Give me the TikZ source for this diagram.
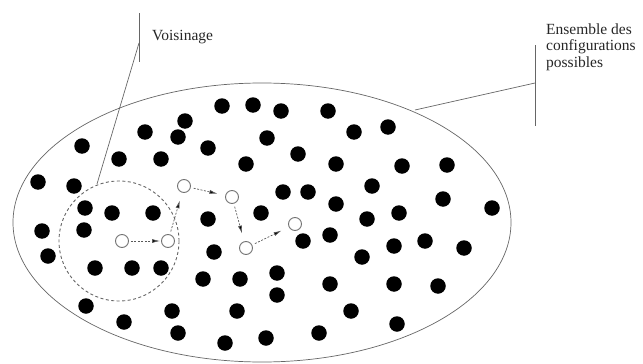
\documentclass[tikz,border=0pt]{standalone}
\usepackage{fontspec}
\setmainfont{Liberation Serif}
\usetikzlibrary{arrows.meta}
\begin{document}
\begin{tikzpicture}[x=1pt,y=-1pt,
  dot/.style={circle,fill=black,inner sep=0pt,minimum size=15.5pt},
  opendot/.style={circle,draw=black!55,line width=0.9pt,fill=white,inner sep=0pt,minimum size=13pt},
  thinline/.style={draw=black!60,line width=0.7pt},
  movearrow/.style={draw=black!65,line width=0.7pt,dash pattern=on 2pt off 1.5pt,
    -{Latex[length=8pt,width=4pt,fill=black]},shorten <=3pt,shorten >=8pt},
  lbl/.style={font=\fontsize{15.5}{16.5}\selectfont,text=black!85,inner sep=0pt,align=left}
]
\useasboundingbox (0,0) rectangle (643,364);
% set of configurations
\path[thinline] (262,222.5) ellipse [x radius=249, y radius=139.5];
% neighbourhood
\coordinate (nc) at (119,241);
\draw[black!60,line width=0.9pt,dash pattern=on 3pt off 2.5pt] (nc) circle [radius=60];
% filled configurations
\foreach \x/\y [count=\i] in {
 222/106,253/105,281/111,328/111,185/121,145/132,178/137,267/138,82/146,208/148,
 119/159,161/159,298/154,246/164,38/182,74/186,
 354/132,388/127,336/164,402/166,447/165,372/186,283/192,308/192,
 85/208,112/213,153/213,84/230,42/231,48/256,95/268,132/268,161/268,
 86/306,124/322,172/311,178/333,225/343,237/311,266/338,319/333,
 208/219,214/252,203/279,240/279,277/273,277/295,261/213,303/241,330/235,330/284,336/204,
 443/199,492/208,367/219,399/213,394/246,425/241,464/248,362/257,394/284,438/286,351/311,397/324}
 \node[dot] (d\i) at (\x,\y) {};
% path of moves
\node[opendot] (c1) at (122,241) {};
\node[opendot] (c2) at (168,241) {};
\node[opendot] (c3) at (184,186) {};
\node[opendot] (c4) at (232,197) {};
\node[opendot] (c5) at (246,248) {};
\node[opendot] (c6) at (295,224) {};
\draw[movearrow,shorten <=2pt,shorten >=1pt] (c1) -- (c2);
\draw[movearrow] (c2) -- (c3);
\draw[movearrow] (c3) -- (c4);
\draw[movearrow] (c4) -- (c5);
\draw[movearrow] (c5) -- (c6);
% labels
\node[lbl,anchor=base west] (vois) at (152,40) {Voisinage};
\coordinate (vt) at (139,13);
\coordinate (vb) at (139,62);
\coordinate (vj) at (139,43);
\coordinate (vc) at (97,184);
\draw[thinline] (vt) -- (vb);
\draw[thinline] (vj) -- (vc);
\node[lbl,anchor=base west] (ens) at (546,67) {Ensemble des\\configurations\\possibles};
\coordinate (et) at (535,45);
\coordinate (eb) at (535,126);
\coordinate (ej) at (535,83);
\coordinate (ec) at (415,110);
\draw[thinline] (et) -- (eb);
\draw[thinline] (ej) -- (ec);
\end{tikzpicture}
\end{document}
